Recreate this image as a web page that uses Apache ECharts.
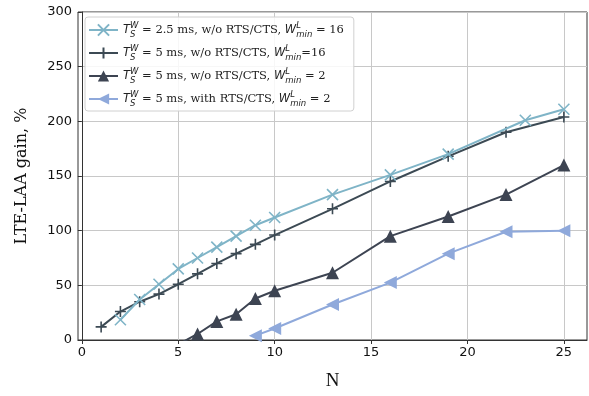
<!DOCTYPE html>
<html><head><meta charset="utf-8">
<script src="https://cdn.jsdelivr.net/npm/echarts@6/dist/echarts.min.js"></script>
<style>html,body{margin:0;padding:0;background:#fff}#c{width:589px;height:396px}</style>
</head><body><div id="c"></div>
<script>
// ---- data ----
const s1X = [2, 3, 4, 5, 6, 7, 8, 9, 10, 13, 16, 19, 23, 25];
const s1Y = [18.5, 37, 51, 65, 75, 85, 95, 105, 112, 133, 151, 170, 201, 211];
const s2X = [1, 2, 3, 4, 5, 6, 7, 8, 9, 10, 13, 16, 19, 22, 25];
const s2Y = [12, 26, 35, 42, 51, 60.5, 70, 79, 87.5, 96, 120, 145, 168, 190, 204];
const s3X = [5, 6, 7, 8, 9, 10, 13, 16, 19, 22, 25];
const s3Y = [-4, 5.5, 17, 23.5, 38, 45, 61.5, 95, 113, 133, 160];
const s4X = [9, 10, 13, 16, 19, 22, 25];
const s4Y = [4, 10.5, 32.5, 52.5, 79, 99, 100];
const seriesNames = ['s1', 's2', 's3', 's4'];
const legendTexts = {
  s1: '{it|T}{sub0|S}{sup|W}{rm| = 2.5 ms, w/o RTS/CTS, }{it|W}{sup0|L}{sub|min}{rm| = 16}',
  s2: '{it|T}{sub0|S}{sup|W}{rm| = 5 ms, w/o RTS/CTS, }{it|W}{sup0|L}{sub|min}{rm|=16}',
  s3: '{it|T}{sub0|S}{sup|W}{rm| = 5 ms, w/o RTS/CTS, }{it|W}{sup0|L}{sub|min}{rm| = 2}',
  s4: '{it|T}{sub0|S}{sup|W}{rm| = 5 ms, with RTS/CTS, }{it|W}{sup0|L}{sub|min}{rm| = 2}'
};
const xTicks = [0, 5, 10, 15, 20, 25];
const yTicks = [0, 50, 100, 150, 200, 250, 300];

const zip = (xs, ys) => xs.map((x, i) => [x, ys[i]]);
const colors = ['#7fb4c7', '#3c4a54', '#3d4452', '#8fa9db'];
const xPath = 'path://M0,0L10,10M10,0L0,10';
const plusPath = 'path://M5,0L5,10M0,5L10,5';

const chart = echarts.init(document.getElementById('c'), null, {renderer: 'canvas'});
const rich = {
  rm: {fontFamily: 'DejaVu Serif', fontSize: 11.5, color: '#222', lineHeight: 18, verticalAlign: 'middle'},
  it: {fontFamily: 'DejaVu Sans', fontStyle: 'italic', fontSize: 11.5, color: '#222', lineHeight: 18, verticalAlign: 'middle'},
  sup: {fontFamily: 'DejaVu Sans', fontStyle: 'italic', fontSize: 8.5, color: '#222', lineHeight: 8, verticalAlign: 'top'},
  sup0: {fontFamily: 'DejaVu Sans', fontStyle: 'italic', fontSize: 8.5, color: '#222', lineHeight: 8, verticalAlign: 'top', width: 0},
  sub: {fontFamily: 'DejaVu Sans', fontStyle: 'italic', fontSize: 8.5, color: '#222', lineHeight: 8, verticalAlign: 'bottom'},
  sub0: {fontFamily: 'DejaVu Sans', fontStyle: 'italic', fontSize: 8.5, color: '#222', lineHeight: 8, verticalAlign: 'bottom', width: 0}
};
const mk = (i, data, symbol, size, extra) => Object.assign({
  name: seriesNames[i], type: 'line', data: data, symbol: symbol, symbolSize: size,
  color: colors[i], lineStyle: {width: 2, color: colors[i]},
  itemStyle: {color: colors[i], borderColor: colors[i], borderWidth: 0},
  clip: true, animation: false, z: 10 - i
}, extra || {});

chart.setOption({
  animation: false,
  grid: {left: 78, right: 2, top: 12, bottom: 55, show: true, borderColor: '#333', borderWidth: 1, backgroundColor: 'transparent'},
  legend: {
    orient: 'vertical', left: 85, top: 17, itemGap: 5, itemWidth: 29, itemHeight: 14,
    padding: [4, 10, 3, 3], borderColor: '#d0d0d0', borderWidth: 1, borderRadius: 3,
    backgroundColor: 'rgba(255,255,255,0.85)',
    data: seriesNames,
    formatter: n => legendTexts[n],
    textStyle: {rich: rich, fontSize: 11.5}
  },
  xAxis: {
    type: 'value', min: -0.2, max: 26.2, splitNumber: 5,
    name: 'N', nameLocation: 'middle', nameGap: 32,
    nameTextStyle: {fontFamily: 'Liberation Serif', fontSize: 19, color: '#111'},
    axisLine: {show: true, lineStyle: {color: '#333', width: 1}},
    axisTick: {show: true, length: 4, lineStyle: {color: '#333'}, customValues: xTicks},
    axisLabel: {fontFamily: 'DejaVu Sans', fontSize: 13, color: '#111', margin: 6, customValues: xTicks},
    splitLine: {show: true, lineStyle: {color: '#c8c8c8', width: 1}, customValues: xTicks}
  },
  yAxis: {
    type: 'value', min: 0, max: 300, interval: 50,
    name: 'LTE-LAA gain, %', nameLocation: 'middle', nameGap: 48,
    nameTextStyle: {fontFamily: 'DejaVu Serif', fontSize: 16, color: '#111'},
    axisLine: {show: true, lineStyle: {color: '#333', width: 1}},
    axisTick: {show: true, length: 4, lineStyle: {color: '#333'}},
    axisLabel: {fontFamily: 'DejaVu Sans', fontSize: 13, color: '#111', margin: 6,
      formatter: v => yTicks.includes(v) ? String(v) : ''},
    splitLine: {show: true, lineStyle: {color: '#c8c8c8', width: 1}}
  },
  series: [
    mk(0, zip(s1X, s1Y), xPath, 11, {itemStyle: {color: colors[0], borderColor: colors[0], borderWidth: 1.6}}),
    mk(1, zip(s2X, s2Y), plusPath, 11, {itemStyle: {color: colors[1], borderColor: colors[1], borderWidth: 1.6}}),
    mk(2, zip(s3X, s3Y), 'triangle', 13),
    mk(3, zip(s4X, s4Y), 'triangle', 13, {symbolRotate: 90})
  ]
});
</script></body></html>
